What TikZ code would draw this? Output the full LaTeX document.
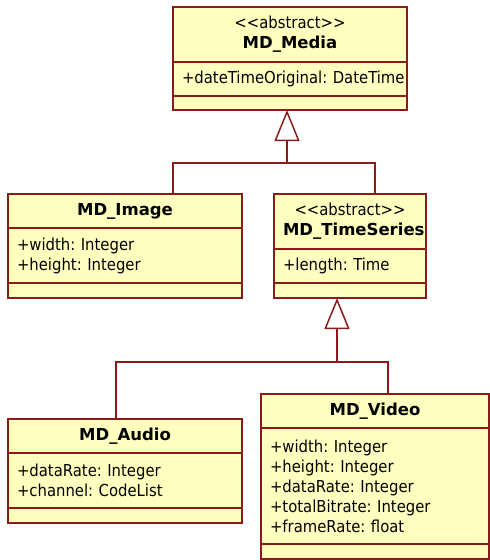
\documentclass[tikz,border=0pt]{standalone}
\usepackage{fontspec}
\setmainfont{DejaVu Sans Condensed}[BoldFont={DejaVu Sans Bold}]
\definecolor{jaune}{RGB}{255,255,192}
\definecolor{bordeaux}{RGB}{139,26,26}
\usepackage{tikz}
\usetikzlibrary{arrows.meta,positioning,calc}
\frenchspacing
\newcommand{\stereo}[1]{\textless\kern0pt\textless#1\textgreater\kern0pt\textgreater}

\begin{document}
\begin{tikzpicture}[x=1pt,y=-1pt,font=\fontsize{16.5}{20}\selectfont,
	compart/.style={draw=bordeaux,fill=jaune,line width=1.5pt,outer sep=0pt,inner xsep=9pt,inner ysep=0pt,anchor=north},
	nom/.style={compart,align=center},
	attr/.style={compart,align=left},
	lien/.style={bordeaux,line width=1.5pt},
	gen/.style={lien,-{Triangle[open,length=31pt,width=25pt]}}]
	\useasboundingbox (0,0) rectangle (490,560);
	% classe mere
	\node[nom,text width=216pt,minimum height=55pt] (media) at (290,7){\stereo{abstract}\\\textbf{MD\_Media}};
	\node[attr,text width=216pt,minimum height=34pt,below=0pt of media] (media-attr){\mbox{+dateTimeOriginal: DateTime}};
	\node[attr,text width=216pt,minimum height=14pt,below=0pt of media-attr] (media-ops){};
	% niveau 2
	\node[nom,text width=216pt,minimum height=34pt] (image) at (125,194){\textbf{MD\_Image}};
	\node[attr,text width=216pt,minimum height=55pt,below=0pt of image] (image-attr){+width: Integer\\+height: Integer};
	\node[attr,text width=216pt,minimum height=15pt,below=0pt of image-attr] (image-ops){};
	\node[nom,text width=134pt,minimum height=55pt] (ts) at (350,194){\stereo{abstract}\\\textbf{MD\_TimeSeries}};
	\node[attr,text width=134pt,minimum height=34pt,below=0pt of ts] (ts-attr){+length: Time};
	\node[attr,text width=134pt,minimum height=15pt,below=0pt of ts-attr] (ts-ops){};
	% niveau 3
	\node[nom,text width=216pt,minimum height=34pt] (audio) at (125,419){\textbf{MD\_Audio}};
	\node[attr,text width=216pt,minimum height=55pt,below=0pt of audio] (audio-attr){+dataRate: Integer\\+channel: CodeList};
	\node[attr,text width=216pt,minimum height=15pt,below=0pt of audio-attr] (audio-ops){};
	\node[nom,text width=210pt,minimum height=34pt] (video) at (375,394){\textbf{MD\_Video}};
	\node[attr,text width=210pt,minimum height=116pt,below=0pt of video] (video-attr){+width: Integer\\+height: Integer\\+dataRate: Integer\\+totalBitrate: Integer\\+frameRate: float};
	\node[attr,text width=210pt,minimum height=15pt,below=0pt of video-attr] (video-ops){};
	% generalisations
	\coordinate (j1) at ($(media-ops.south)+(-3,53)$);
	\draw[lien] ([xshift=48pt]image.north) |- (j1) -| ([xshift=25pt]ts.north);
	\draw[gen] (j1) -- (j1 |- media-ops.south);
	\coordinate (j2) at ($(ts-ops.south)+(-13,64)$);
	\draw[lien] ([xshift=-9pt]audio.north) |- (j2) -| ([xshift=13pt]video.north);
	\draw[gen] (j2) -- (j2 |- ts-ops.south);
\end{tikzpicture}
\end{document}
